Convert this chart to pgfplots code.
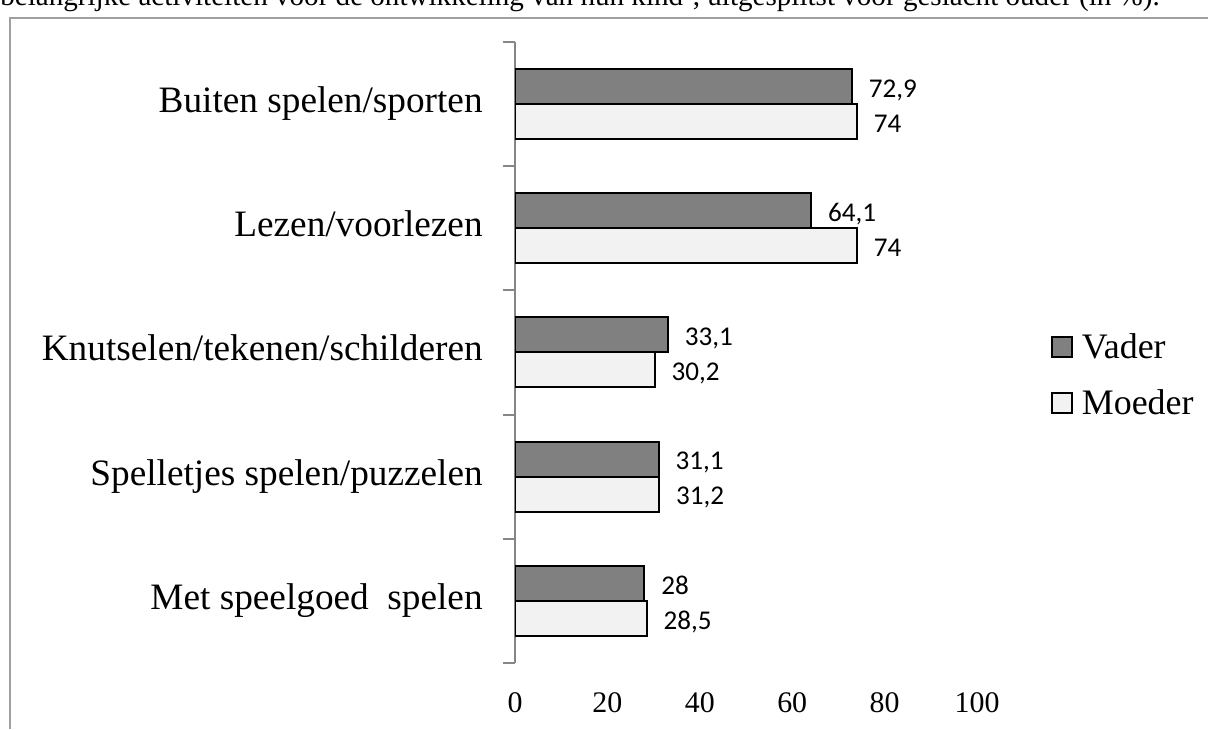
\documentclass[border=0pt]{standalone}
\usepackage{fontspec}
\setmainfont{Liberation Serif}
\newfontfamily\calibri{Carlito}
\usepackage{pgfplots}
\pgfplotsset{compat=1.18}
\definecolor{vader}{HTML}{808080}
\definecolor{moeder}{HTML}{F2F2F2}
\definecolor{framegray}{HTML}{A0A0A0}
\definecolor{axisgray}{HTML}{868686}

\pgfplotstableread{
x y label
28 0 28
31.1 1 31,1
33.1 2 33,1
64.1 3 64,1
72.9 4 72,9
}\vadertable
\pgfplotstableread{
x y label
28.5 0 28,5
31.2 1 31,2
30.2 2 30,2
74 3 74
74 4 74
}\moedertable

\begin{document}
\begin{tikzpicture}[x=0.5bp,y=0.5bp]
\path[use as bounding box] (0,0) rectangle (1208,729);
\clip (0,0) rectangle (1208,729);
\node[anchor=base west, inner sep=0pt, font=\fontsize{14.6}{17}\selectfont] at (0,723) {belangrijke activiteiten voor de ontwikkeling van hun kind’, uitgesplitst voor geslacht ouder (in \%).};
\draw[framegray, line width=1bp] (10,0) -- (10,711) -- (1208,711);
\begin{axis}[
  at={(257.5bp,33bp)}, anchor=south west,
  scale only axis, width=231bp, height=310.5bp,
  xmin=0, xmax=100, ymin=-0.5, ymax=4.5,
  enlargelimits=false,
  xbar, bar width=17.5bp,
  axis y line*=left, axis x line*=bottom,
  x axis line style={draw=none},
  y axis line style={axisgray, line width=1bp},
  xtick={0,20,...,100},
  ytick={0,...,4},
  yticklabels={{Met speelgoed\ \ spelen\ },{Spelletjes spelen/puzzelen},{Knutselen/tekenen/schilderen\ },{Lezen/voorlezen\ },{Buiten spelen/sporten}},
  minor ytick={-0.5,0.5,...,4.5},
  tick align=outside,
  major tick length=0pt,
  minor tick length=6bp,
  minor tick style={axisgray, line width=1bp},
  major tick style={draw=none},
  /pgf/number format/assume math mode=true,
  xticklabel style={font=\fontsize{15}{18}\selectfont, anchor=center, yshift=-20bp, inner sep=0pt},
  yticklabel style={font=\fontsize{18.7}{22}\selectfont, anchor=east, inner sep=0pt, xshift=-16bp, text height=12.5bp, text depth=4bp},
  nodes near coords,
  point meta=explicit symbolic,
  nodes near coords style={font=\calibri\fontsize{13.6}{16}\selectfont, anchor=west, inner sep=0pt, xshift=8bp, yshift=-1bp, text height=8.7bp, text depth=0pt},
  legend image code/.code={\draw[#1, draw=black, line width=1bp] (0bp,-3.5bp) rectangle (10bp,6.5bp);},
  legend style={at={(1.160,0.5314)}, anchor=north west, draw=none, fill=none, inner sep=0pt, outer sep=0pt, row sep=11bp, column sep=4.5bp, font=\fontsize{18}{21}\selectfont, nodes={inner sep=0pt, text height=13bp, text depth=4bp}},
  legend cell align=left,
]
\addplot[fill=vader, draw=black, line width=1bp, bar shift=8.75bp] table[x=x, y=y, meta=label] {\vadertable};
\addplot[fill=moeder, draw=black, line width=1bp, bar shift=-8.75bp] table[x=x, y=y, meta=label] {\moedertable};
\legend{Vader, Moeder}
\end{axis}
\end{tikzpicture}
\end{document}
